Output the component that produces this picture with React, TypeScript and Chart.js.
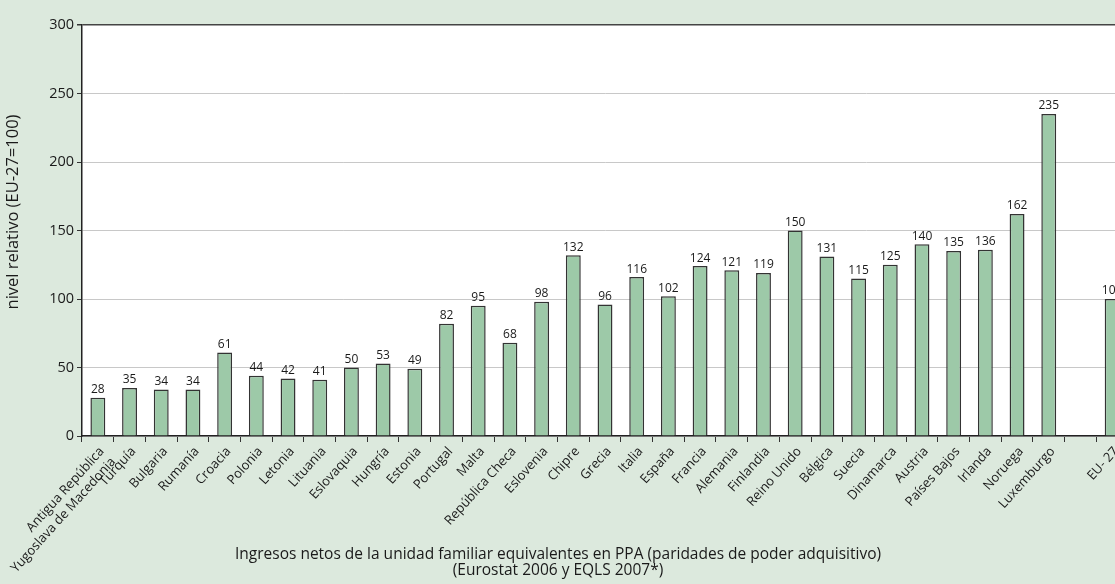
import React, { useEffect, useRef } from "react";
import { Chart, registerables } from "chart.js";

Chart.register(...registerables);

const categories: (string | string[])[] = [
  ["Antigua República", "Yugoslava de Macedonia"],
  "Turquía", "Bulgaria", "Rumanía", "Croacia", "Polonia", "Letonia", "Lituania",
  "Eslovaquia", "Hungría", "Estonia", "Portugal", "Malta", "República Checa",
  "Eslovenia", "Chipre", "Grecia", "Italia", "España", "Francia", "Alemania",
  "Finlandia", "Reino Unido", "Bélgica", "Suecia", "Dinamarca", "Austria",
  "Países Bajos", "Irlanda", "Noruega", "Luxemburgo", "", "EU- 27",
];

const values: (number | null)[] = [
  28, 35, 34, 34, 61, 44, 42, 41, 50, 53, 49, 82, 95, 68, 98, 132, 96, 116, 102,
  124, 121, 119, 150, 131, 115, 125, 140, 135, 136, 162, 235, null, 100,
];

const yTicks = [0, 50, 100, 150, 200, 250, 300];

const yTitle = "nivel relativo (EU-27=100)";
const xTitle = [
  "Ingresos netos de la unidad familiar equivalentes en PPA (paridades de poder adquisitivo)",
  "(Eurostat 2006 y EQLS 2007*)",
];

const FONT = "'Open Sans', 'Noto Sans', sans-serif";
const BG = "#dce9dd";

export default function App() {
  const ref = useRef<HTMLCanvasElement | null>(null);

  useEffect(() => {
    document.body.style.margin = "0";
    document.body.style.background = BG;
    document.body.style.overflow = "hidden";
    const canvas = ref.current!;
    const bgPlugin = {
      id: "bg",
      beforeDraw(chart: any) {
        const { ctx, chartArea } = chart;
        ctx.save();
        ctx.fillStyle = BG;
        ctx.fillRect(0, 0, chart.width, chart.height);
        ctx.fillStyle = "#ffffff";
        ctx.fillRect(chartArea.left, chartArea.top, chartArea.right - chartArea.left, chartArea.bottom - chartArea.top);
        ctx.restore();
      },
    };
    const labelPlugin = {
      id: "labels",
      afterDatasetsDraw(chart: any) {
        const { ctx } = chart;
        const meta = chart.getDatasetMeta(0);
        ctx.save();
        ctx.font = `12px ${FONT}`;
        ctx.fillStyle = "#1a1a1a";
        ctx.textAlign = "center";
        ctx.textBaseline = "bottom";
        meta.data.forEach((bar: any, i: number) => {
          const v = values[i];
          if (v == null) return;
          ctx.fillText(String(v), bar.x, bar.y - 2);
        });
        // x title
        ctx.font = `15.5px ${FONT}`;
        ctx.textBaseline = "middle";
        ctx.fillText(xTitle[0], 558, 555);
        ctx.fillText(xTitle[1], 558, 571);
        // y title
        ctx.translate(13, 212);
        ctx.rotate(-Math.PI / 2);
        ctx.font = `16.5px ${FONT}`;
        ctx.fillText(yTitle, 0, 0);
        ctx.restore();
      },
    };
    const chart = new Chart(canvas, {
      type: "bar",
      data: {
        labels: categories,
        datasets: [
          {
            data: values,
            backgroundColor: "#9dc9a8",
            borderColor: "#333333",
            borderWidth: 1.5,
            categoryPercentage: 1,
            barPercentage: 0.47,
          },
        ],
      },
      options: {
        animation: false,
        responsive: false,
        maintainAspectRatio: false,
        layout: { padding: { top: 25, right: 2, left: 0, bottom: 0 } },
        plugins: { legend: { display: false }, tooltip: { enabled: false } },
        scales: {
          x: {
            afterFit(scale: any) {
              scale.height = 148;
              scale.paddingLeft = 0;
              scale.paddingRight = 0;
            },
            grid: {
              drawOnChartArea: false,
              drawTicks: true,
              tickLength: 6,
              tickColor: "#333",
              offset: true,
            },
            border: { color: "#222", width: 1.5 },
            ticks: {
              minRotation: 48,
              maxRotation: 48,
              autoSkip: false,
              color: "#1a1a1a",
              font: { family: FONT, size: 13 },
              padding: 2,
              labelOffset: 4,
            },
          },
          y: {
            min: 0,
            max: 300,
            afterFit(scale: any) {
              scale.width = 82;
              scale.paddingTop = 0;
              scale.paddingBottom = 0;
            },
            afterBuildTicks(scale: any) {
              scale.ticks = yTicks.map((v) => ({ value: v }));
            },
            grid: {
              color: (ctx: any) => (ctx.tick && ctx.tick.value === 300 ? "#444" : "#c8c8c8"),
              lineWidth: (ctx: any) => (ctx.tick && ctx.tick.value === 300 ? 1.5 : 1),
              tickColor: "#333",
              tickLength: 5,
            },
            border: { color: "#222", width: 1.5 },
            ticks: {
              color: "#1a1a1a",
              font: { family: FONT, size: 14.5 },
              padding: 3,
            },
          },
        },
      },
      plugins: [bgPlugin, labelPlugin],
    });
    return () => chart.destroy();
  }, []);

  return (
    <div style={{ width: 1115, height: 584, overflow: "hidden", background: BG }}>
      <canvas ref={ref} width={1130} height={584} style={{ display: "block", width: 1130, height: 584 }} />
    </div>
  );
}
